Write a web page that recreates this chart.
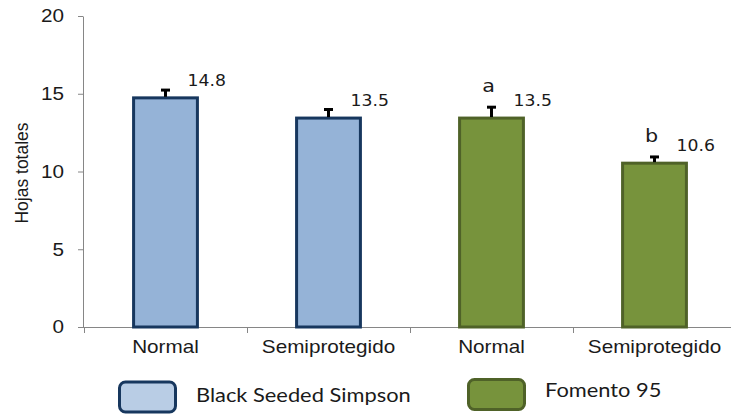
<!DOCTYPE html>
<html>
<head>
<meta charset="utf-8">
<script src="https://cdn.jsdelivr.net/npm/d3@7"></script>
<style>
  body { margin: 0; background: #fff; }
  svg { display: block; }
</style>
</head>
<body>
<div class="chart"></div>
<script>
// chart data
const categories = ["Normal", "Semiprotegido", "Normal", "Semiprotegido"];
const groups = ["Black Seeded Simpson", "Black Seeded Simpson", "Fomento 95", "Fomento 95"];
const values = [14.8, 13.5, 13.5, 10.6];
const errors = [0.5, 0.55, 0.7, 0.4];
const letters = ["", "", "a", "b"];
const yTicks = [0, 5, 10, 15, 20];
const legendNames = ["Black Seeded Simpson", "Fomento 95"];

const width = 731,
  height = 414;
// the source picture is stretched a bit wide, so text gets the same stretch
const sx = 1.15;

const fills = { "Black Seeded Simpson": "#95b3d7", "Fomento 95": "#77933c" };
const strokes = { "Black Seeded Simpson": "#17375e", "Fomento 95": "#4f6228" };
const legendFills = { "Black Seeded Simpson": "#b9cde5", "Fomento 95": "#77933c" };

const svg = d3
  .select(".chart")
  .append("svg")
  .attr("width", width)
  .attr("height", height);

svg.append("rect").attr("width", width).attr("height", height).attr("fill", "#fff");

const idx = values.map((d, i) => i);

const x = d3
  .scaleBand()
  .domain(idx)
  .range([84, 736])
  .padding(0);

const y = d3
  .scaleLinear()
  .domain([0, 20])
  .range([327, 16]);

const barW = x.bandwidth() * 0.41;
const cx = i => x(i) + x.bandwidth() / 2;

// y axis
const yAxis = svg
  .append("g")
  .attr("transform", "translate(83,0)")
  .call(
    d3
      .axisLeft(y)
      .tickValues(yTicks)
      .tickSize(5)
      .tickSizeOuter(0)
      .tickPadding(11.5)
  );
yAxis.selectAll("path, line").attr("stroke", "#868686");
yAxis
  .selectAll("text")
  .attr("transform", `scale(${sx},1)`)
  .style("font-family", "'Liberation Sans', Arial, sans-serif")
  .style("font-size", "18px")
  .attr("fill", "#1a1a1a");

// x axis
const xAxis = svg
  .append("g")
  .attr("transform", `translate(0,${y(0)})`)
  .call(
    d3
      .axisBottom(x)
      .tickSize(0)
      .tickPadding(13)
      .tickFormat(i => categories[i])
  );
xAxis.select(".domain").remove();
xAxis
  .selectAll("text")
  .attr("transform", `scale(${sx},1)`)
  .style("font-family", "'Liberation Sans', Arial, sans-serif")
  .style("font-size", "18px")
  .attr("fill", "#1a1a1a");

svg
  .append("line")
  .attr("x1", 83)
  .attr("x2", width)
  .attr("y1", y(0) + 0.5)
  .attr("y2", y(0) + 0.5)
  .attr("stroke", "#868686");

// ticks between the categories
const bounds = idx.map(i => x(i)).concat([x.range()[1]]);
svg
  .selectAll(".sep")
  .data(bounds)
  .enter()
  .append("line")
  .attr("class", "sep")
  .attr("x1", d => Math.round(d) + 0.5)
  .attr("x2", d => Math.round(d) + 0.5)
  .attr("y1", y(0))
  .attr("y2", y(0) + 6)
  .attr("stroke", "#868686");

// bars
svg
  .selectAll(".bar")
  .data(idx)
  .enter()
  .append("rect")
  .attr("class", "bar")
  .attr("x", i => cx(i) - barW / 2 + 1.5)
  .attr("width", barW - 3)
  .attr("y", i => y(values[i]) + 1)
  .attr("height", i => y(0) - y(values[i]) - 1)
  .attr("fill", i => fills[groups[i]])
  .attr("stroke", i => strokes[groups[i]])
  .attr("stroke-width", 3);

// error bars
const err = svg.append("g").attr("stroke", "#000").attr("stroke-width", 3);
err
  .selectAll(".ev")
  .data(idx)
  .enter()
  .append("line")
  .attr("x1", i => cx(i))
  .attr("x2", i => cx(i))
  .attr("y1", i => y(values[i]))
  .attr("y2", i => y(values[i] + errors[i]));
err
  .selectAll(".ec")
  .data(idx)
  .enter()
  .append("line")
  .attr("x1", i => cx(i) - 4.5)
  .attr("x2", i => cx(i) + 4.5)
  .attr("y1", i => y(values[i] + errors[i]) + 1)
  .attr("y2", i => y(values[i] + errors[i]) + 1);

// value labels
svg
  .selectAll(".val")
  .data(idx)
  .enter()
  .append("g")
  .attr("class", "val")
  .attr("transform", i => `translate(${cx(i) + 22},${y(values[i]) - 11})`)
  .append("text")
  .attr("transform", `scale(${sx},1)`)
  .style("font-family", "'DejaVu Sans', Verdana, sans-serif")
  .style("font-size", "15px")
  .attr("fill", "#1a1a1a")
  .text(i => values[i].toFixed(1));

// significance letters
svg
  .selectAll(".let")
  .data(idx.filter(i => letters[i]))
  .enter()
  .append("g")
  .attr("class", "let")
  .attr("transform", i => `translate(${cx(i) - 3},${y(values[i] + errors[i]) - 14})`)
  .append("text")
  .attr("transform", `scale(${sx},1)`)
  .attr("text-anchor", "middle")
  .style("font-family", "'DejaVu Sans', Verdana, sans-serif")
  .style("font-size", "18px")
  .attr("fill", "#1a1a1a")
  .text(i => letters[i]);

// y axis title
svg
  .append("text")
  .attr("transform", "translate(28,173) rotate(-90)")
  .attr("text-anchor", "middle")
  .style("font-family", "'Liberation Sans', Arial, sans-serif")
  .style("font-size", "17.5px")
  .attr("fill", "#1a1a1a")
  .text("Hojas totales");

// legend
const legendPos = [
  { bx: 119.5, by: 382, tx: 196, ty: 402 },
  { bx: 468.5, by: 379.5, tx: 545, ty: 397 }
];
const legend = svg
  .selectAll(".legend")
  .data(legendNames)
  .enter()
  .append("g")
  .attr("class", "legend");
legend
  .append("rect")
  .attr("x", (d, i) => legendPos[i].bx)
  .attr("y", (d, i) => legendPos[i].by)
  .attr("width", 56)
  .attr("height", 30)
  .attr("rx", 6)
  .attr("fill", d => legendFills[d])
  .attr("stroke", d => strokes[d])
  .attr("stroke-width", 3);
legend
  .append("g")
  .attr("transform", (d, i) => `translate(${legendPos[i].tx},${legendPos[i].ty})`)
  .append("text")
  .attr("transform", `scale(${sx},1)`)
  .style("font-family", "Lato, 'Open Sans', sans-serif")
  .style("font-size", "19px")
  .attr("fill", "#1a1a1a")
  .text(d => d);
</script>
</body>
</html>
